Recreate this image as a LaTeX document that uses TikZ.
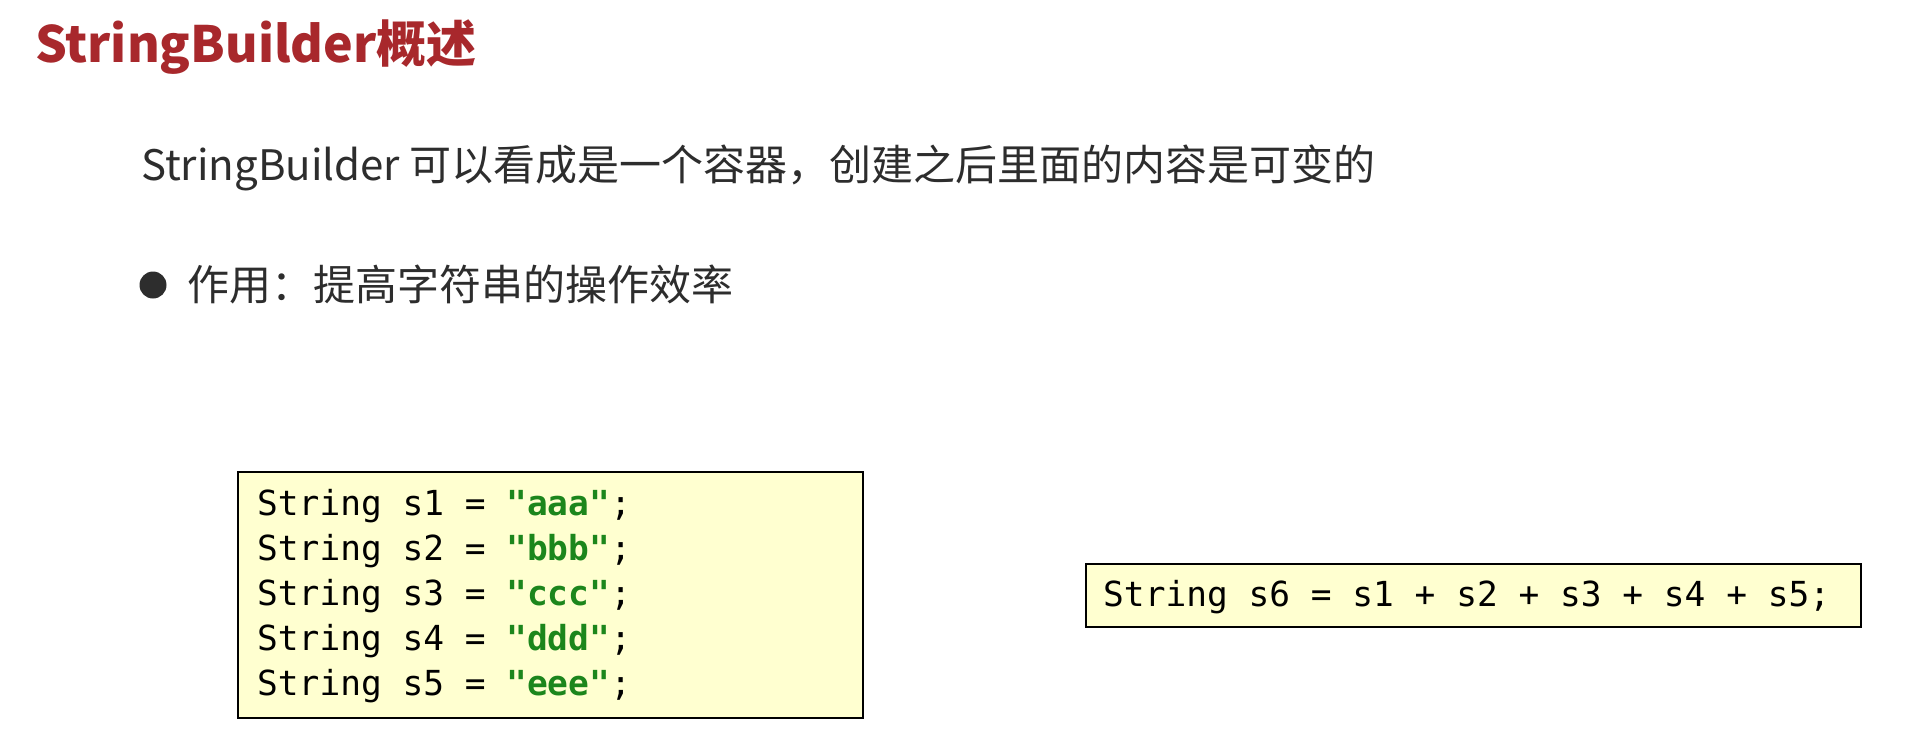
\documentclass[tikz,border=0pt]{standalone}
\usepackage{fontspec}
\setmainfont{Noto Sans CJK SC}
\setmonofont{DejaVu Sans Mono}
\definecolor{titlered}{RGB}{168,40,44}
\definecolor{bodygray}{RGB}{45,45,45}
\definecolor{codeyellow}{RGB}{255,255,208}
\definecolor{strgreen}{RGB}{28,134,28}
\begin{document}
\begin{tikzpicture}[x=1pt,y=-1pt,
    title/.style={anchor=base west,inner sep=0pt,text=titlered,
      font=\fontsize{50}{60}\selectfont\bfseries},
    body/.style={anchor=base west,inner sep=0pt,text=bodygray,
      font=\fontsize{42}{50}\selectfont},
    codebox/.style={draw=black,line width=2pt,fill=codeyellow,
      anchor=north west,inner sep=0pt},
    code/.style={anchor=base west,inner sep=0pt,
      font=\fontsize{34.5}{45}\selectfont\ttfamily}]
    \fill[white] (0,0) rectangle (1922,744);
    \useasboundingbox (0,0) rectangle (1922,744);

    % heading and the two lines of text
    \node[title] (Title) at (35,62) {StringBuilder概述};
    \node[body] (Intro) at (141,180) {StringBuilder 可以看成是一个容器，创建之后里面的内容是可变的};
    \node[circle,fill=bodygray,inner sep=0pt,minimum size=27pt] (Dot) at (153,285) {};
    \node[body] (Use) at (187,300) {作用：提高字符串的操作效率};

    % left box: five separate strings
    \node[codebox,minimum width=625pt,minimum height=246pt] (DeclBox) at (237,471) {};
    \foreach \i/\v in {1/aaa,2/bbb,3/ccc,4/ddd,5/eee}{% one line per string
      \node[code] (Decl\i) at (257,470+45*\i)
        {String s\i{} = \textcolor{strgreen}{\bfseries"\v"};};
    }

    % right box: the concatenation
    \node[codebox,minimum width=775pt,minimum height=63pt] (SumBox) at (1085,563) {};
    \node[code] (Sum) at (1103,606) {String s6 = s1 + s2 + s3 + s4 + s5;};
  \end{tikzpicture}
\end{document}
